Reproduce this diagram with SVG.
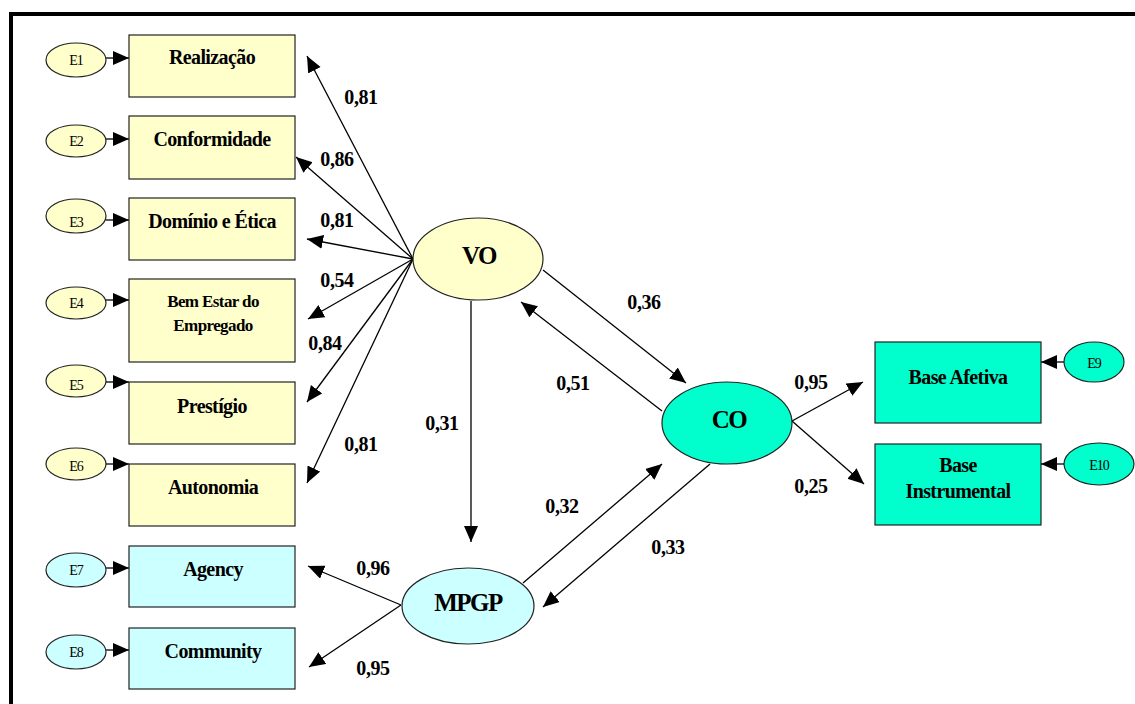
<svg xmlns="http://www.w3.org/2000/svg" width="1135" height="704" viewBox="0 0 1135 704">
  <style>
    .yel { fill: #FFFFCC; stroke: #222; stroke-width: 1.2; }
    .cy { fill: #CCFFFF; stroke: #222; stroke-width: 1.2; }
    .tl { fill: #00FFCC; stroke: #222; stroke-width: 1.2; }
    .lbl { font-family: "Liberation Serif", "Times New Roman", serif; font-weight: bold; font-size: 20px; letter-spacing: -0.6px; text-anchor: middle; fill: #000; }
    .lbl2 { font-family: "Liberation Serif", "Times New Roman", serif; font-weight: bold; font-size: 17px; letter-spacing: -0.6px; text-anchor: middle; fill: #000; }
    .big { font-family: "Liberation Serif", "Times New Roman", serif; font-weight: bold; font-size: 25px; letter-spacing: -1.5px; text-anchor: middle; fill: #000; }
    .err { font-family: "Liberation Serif", "Times New Roman", serif; font-size: 14px; letter-spacing: -1px; text-anchor: middle; fill: #000; }
    .num { font-family: "Liberation Serif", "Times New Roman", serif; font-weight: bold; font-size: 20px; letter-spacing: -0.4px; text-anchor: middle; fill: #000; }
    .con { stroke: #000; stroke-width: 1.3; fill: none; marker-end: url(#ah); }
  </style>
  <defs>
    <marker id="ah" markerUnits="userSpaceOnUse" markerWidth="18" markerHeight="16" refX="16" refY="7" orient="auto">
      <path d="M0,0 L16,7 L0,14 Z" fill="#000"/>
    </marker>
  </defs>

  <rect width="1135" height="704" fill="#fff"/>
  <!-- frame -->
  <path d="M11,704 L11,14 L1135,14" fill="none" stroke="#000" stroke-width="4"/>

  <!-- connectors -->
  <g id="connectors">
    <!-- error terms to indicators -->
    <line class="con" x1="106" y1="58" x2="129" y2="58"/>
    <line class="con" x1="106" y1="139" x2="129" y2="139"/>
    <line class="con" x1="106" y1="220" x2="129" y2="220"/>
    <line class="con" x1="106" y1="300" x2="129" y2="300"/>
    <line class="con" x1="106" y1="382" x2="129" y2="382"/>
    <line class="con" x1="106" y1="464" x2="129" y2="464"/>
    <line class="con" x1="106" y1="568" x2="129" y2="568"/>
    <line class="con" x1="106" y1="650" x2="129" y2="650"/>
    <line class="con" x1="1064" y1="362" x2="1041" y2="362"/>
    <line class="con" x1="1064" y1="464" x2="1041" y2="464"/>
    <!-- VO loadings -->
    <line class="con" x1="413" y1="259" x2="307" y2="56"/>
    <line class="con" x1="413" y1="259" x2="296" y2="157"/>
    <line class="con" x1="413" y1="259" x2="307" y2="239"/>
    <line class="con" x1="413" y1="259" x2="308" y2="319"/>
    <line class="con" x1="413" y1="259" x2="307" y2="402"/>
    <line class="con" x1="413" y1="259" x2="307" y2="483"/>
    <!-- structural paths -->
    <line class="con" x1="471" y1="301" x2="471" y2="542"/>
    <line class="con" x1="543" y1="270" x2="686" y2="383"/>
    <line class="con" x1="662" y1="411" x2="521" y2="302"/>
    <line class="con" x1="523" y1="583" x2="662" y2="464"/>
    <line class="con" x1="710" y1="464" x2="543" y2="607"/>
    <!-- MPGP loadings -->
    <line class="con" x1="401" y1="605" x2="308" y2="566"/>
    <line class="con" x1="401" y1="605" x2="309" y2="667"/>
    <!-- CO loadings -->
    <line class="con" x1="792" y1="421" x2="863" y2="382"/>
    <line class="con" x1="792" y1="421" x2="864" y2="484"/>
  </g>

  <!-- path coefficients -->
  <g id="coefficients">
    <text class="num" x="361" y="104">0,81</text>
    <text class="num" x="337" y="166">0,86</text>
    <text class="num" x="337" y="227">0,81</text>
    <text class="num" x="337" y="287">0,54</text>
    <text class="num" x="325" y="350">0,84</text>
    <text class="num" x="361" y="451">0,81</text>
    <text class="num" x="442" y="430">0,31</text>
    <text class="num" x="644" y="309">0,36</text>
    <text class="num" x="573" y="390">0,51</text>
    <text class="num" x="562" y="513">0,32</text>
    <text class="num" x="668" y="554">0,33</text>
    <text class="num" x="373" y="575">0,96</text>
    <text class="num" x="373" y="675">0,95</text>
    <text class="num" x="811" y="389">0,95</text>
    <text class="num" x="811" y="493">0,25</text>
  </g>

  <!-- error terms -->
  <g id="E1"><ellipse class="yel" cx="76" cy="60" rx="30" ry="17"/><text class="err" x="76" y="65">E1</text></g>
  <g id="E2"><ellipse class="yel" cx="76" cy="141" rx="30" ry="16"/><text class="err" x="76" y="146">E2</text></g>
  <g id="E3"><ellipse class="yel" cx="76" cy="216" rx="30" ry="17"/><text class="err" x="76" y="227">E3</text></g>
  <g id="E4"><ellipse class="yel" cx="76" cy="303" rx="30" ry="16"/><text class="err" x="76" y="308">E4</text></g>
  <g id="E5"><ellipse class="yel" cx="76" cy="381" rx="30" ry="16"/><text class="err" x="76" y="390">E5</text></g>
  <g id="E6"><ellipse class="yel" cx="76" cy="464" rx="30" ry="16"/><text class="err" x="76" y="471">E6</text></g>
  <g id="E7"><ellipse class="cy" cx="76" cy="570" rx="30" ry="17"/><text class="err" x="76" y="575">E7</text></g>
  <g id="E8"><ellipse class="cy" cx="76" cy="652" rx="30" ry="17"/><text class="err" x="76" y="657">E8</text></g>
  <g id="E9"><ellipse class="tl" cx="1094" cy="362" rx="30" ry="20"/><text class="err" x="1094" y="368">E9</text></g>
  <g id="E10"><ellipse class="tl" cx="1099" cy="464" rx="35" ry="21"/><text class="err" x="1099" y="470">E10</text></g>

  <!-- observed indicators -->
  <g id="realizacao"><rect class="yel" x="129" y="35" width="166" height="62"/><text class="lbl" x="212" y="64">Realização</text></g>
  <g id="conformidade"><rect class="yel" x="129" y="116" width="166" height="63"/><text class="lbl" x="212" y="146">Conformidade</text></g>
  <g id="dominio"><rect class="yel" x="129" y="198" width="166" height="62"/><text class="lbl" x="212" y="228">Domínio e Ética</text></g>
  <g id="bem-estar"><rect class="yel" x="129" y="279" width="166" height="83"/><text class="lbl2" x="213" y="307">Bem Estar do</text><text class="lbl2" x="213" y="331">Empregado</text></g>
  <g id="prestigio"><rect class="yel" x="129" y="382" width="166" height="62"/><text class="lbl" x="212" y="413">Prestígio</text></g>
  <g id="autonomia"><rect class="yel" x="129" y="464" width="166" height="62"/><text class="lbl" x="213" y="494">Autonomia</text></g>
  <g id="agency"><rect class="cy" x="129" y="546" width="166" height="61"/><text class="lbl" x="213" y="576">Agency</text></g>
  <g id="community"><rect class="cy" x="129" y="628" width="166" height="61"/><text class="lbl" x="213" y="658">Community</text></g>
  <g id="base-afetiva"><rect class="tl" x="875" y="342" width="166" height="81"/><text class="lbl" x="958" y="384">Base Afetiva</text></g>
  <g id="base-instrumental"><rect class="tl" x="875" y="444" width="166" height="81"/><text class="lbl" x="958" y="472">Base</text><text class="lbl" x="958" y="498">Instrumental</text></g>

  <!-- latent constructs -->
  <g id="VO"><ellipse class="yel" cx="478" cy="259" rx="65" ry="41"/><text class="big" x="479" y="264">VO</text></g>
  <g id="CO"><ellipse class="tl" cx="727" cy="423" rx="65" ry="41"/><text class="big" x="729" y="428">CO</text></g>
  <g id="MPGP"><ellipse class="cy" cx="468" cy="606" rx="66" ry="38"/><text class="big" x="468" y="611">MPGP</text></g>
</svg>
